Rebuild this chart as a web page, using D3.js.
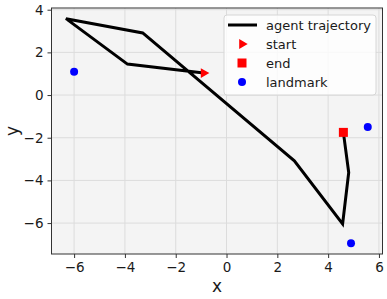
<!DOCTYPE html>
<html>
<head>
<meta charset="utf-8">
<script src="https://cdn.jsdelivr.net/npm/d3@7"></script>
<style>
  body { margin: 0; background: #fff; }
  svg text { font-family: "DejaVu Sans", sans-serif; }
</style>
</head>
<body>
<div id="plot"></div>
<script>
// trajectory points (x, y)
var trajX = [-0.9, -3.9, -6.32, -3.3, 2.67, 4.57, 4.81, 4.6];
var trajY = [1.03, 1.45, 3.58, 2.91, -3.08, -6.04, -3.63, -1.75];
var landmarkX = [-6.0, 5.56, 4.9];
var landmarkY = [1.09, -1.5, -6.95];
var xTicks = [-6, -4, -2, 0, 2, 4, 6];
var yTicks = [-6, -4, -2, 0, 2, 4];
var legendLabels = ['agent trajectory', 'start', 'end', 'landmark'];

var W = 387, H = 299;
var margin = {t:8, r:4.5, b:45, l:51.5};
var width = W - margin.l - margin.r,
    height = H - margin.t - margin.b;

var svg = d3.select('#plot').append('svg')
  .attr('width', W).attr('height', H);

var plot = svg.append('g')
  .attr('transform', 'translate(' + margin.l + ',' + margin.t + ')');

var x = d3.scaleLinear().domain([-6.89, 6.14]).range([0, width]);
var y = d3.scaleLinear().domain([-7.45, 4.08]).range([height, 0]);

plot.append('rect')
  .attr('width', width).attr('height', height)
  .style('fill', '#f4f4f4');

// grid
plot.selectAll('.gx').data(xTicks).enter().append('line')
  .attr('x1', function(d){ return x(d); }).attr('x2', function(d){ return x(d); })
  .attr('y1', 0).attr('y2', height)
  .style('stroke', '#dcdcdc').style('stroke-width', 1);
plot.selectAll('.gy').data(yTicks).enter().append('line')
  .attr('y1', function(d){ return y(d); }).attr('y2', function(d){ return y(d); })
  .attr('x1', 0).attr('x2', width)
  .style('stroke', '#dcdcdc').style('stroke-width', 1);

// axes
var fmt = function(d){ return d < 0 ? '\u2212' + Math.abs(d) : d; };
var xAxis = plot.append('g')
  .attr('transform', 'translate(0,' + height + ')')
  .call(d3.axisBottom(x).tickValues(xTicks).tickFormat(fmt).tickSize(4).tickPadding(4));
var yAxis = plot.append('g')
  .call(d3.axisLeft(y).tickValues(yTicks).tickFormat(fmt).tickSize(4).tickPadding(4));
[xAxis, yAxis].forEach(function(a){
  a.select('.domain').remove();
  a.selectAll('line').style('stroke', '#333');
  a.selectAll('text').style('font-size', '13.5px').style('fill', '#1a1a1a')
    .style('font-family', '"DejaVu Sans", sans-serif');
});

// trajectory
var pts = trajX.map(function(d, i){ return [d, trajY[i]]; });
var line = d3.line().x(function(d){ return x(d[0]); }).y(function(d){ return y(d[1]); });
plot.append('path').datum(pts)
  .attr('d', line)
  .style('fill', 'none').style('stroke', '#000')
  .style('stroke-width', 3).style('stroke-linejoin', 'miter');

// landmarks
plot.selectAll('.lm').data(landmarkX).enter().append('circle')
  .attr('cx', function(d){ return x(d); })
  .attr('cy', function(d, i){ return y(landmarkY[i]); })
  .attr('r', 4).style('fill', '#0000ff');

var tri = d3.symbol().type(d3.symbolTriangle).size(42);
// start marker (pointing right)
plot.append('path')
  .attr('d', tri())
  .attr('transform', 'translate(' + x(trajX[0]) + ',' + y(trajY[0]) + ') rotate(90)')
  .style('fill', '#ff0000');
// end marker
var last = trajX.length - 1;
plot.append('rect')
  .attr('x', x(trajX[last]) - 4.5).attr('y', y(trajY[last]) - 4.5)
  .attr('width', 9).attr('height', 9)
  .style('fill', '#ff0000');

// spines
plot.append('rect')
  .attr('width', width).attr('height', height)
  .style('fill', 'none').style('stroke', '#333').style('stroke-width', 1);

// legend
var lg = svg.append('g').attr('transform', 'translate(224,15)');
lg.append('rect')
  .attr('width', 152).attr('height', 80).attr('rx', 3)
  .style('fill', 'rgba(255,255,255,0.8)').style('stroke', '#d6d6d6');
legendLabels.forEach(function(t, i){
  var cy = 10 + i * 19;
  if (i == 0) {
    lg.append('line').attr('x1', 4).attr('x2', 33).attr('y1', cy).attr('y2', cy)
      .style('stroke', '#000').style('stroke-width', 3);
  } else if (i == 1) {
    lg.append('path').attr('d', tri())
      .attr('transform', 'translate(18,' + cy + ') rotate(90)').style('fill', '#ff0000');
  } else if (i == 2) {
    lg.append('rect').attr('x', 13.5).attr('y', cy - 4.5).attr('width', 9).attr('height', 9)
      .style('fill', '#ff0000');
  } else {
    lg.append('circle').attr('cx', 18).attr('cy', cy).attr('r', 4).style('fill', '#0000ff');
  }
  lg.append('text').attr('x', 42).attr('y', cy + 4.5)
    .style('font-size', '13px').style('fill', '#1a1a1a').text(t);
});

// axis labels
svg.append('text')
  .attr('x', margin.l + width / 2).attr('y', 292)
  .attr('text-anchor', 'middle').style('font-size', '17px').style('fill', '#1a1a1a')
  .text('x');
svg.append('text')
  .attr('transform', 'translate(18,' + (margin.t + height / 2) + ') rotate(-90)')
  .attr('text-anchor', 'middle').style('font-size', '17px').style('fill', '#1a1a1a')
  .text('y');
</script>
</body>
</html>
